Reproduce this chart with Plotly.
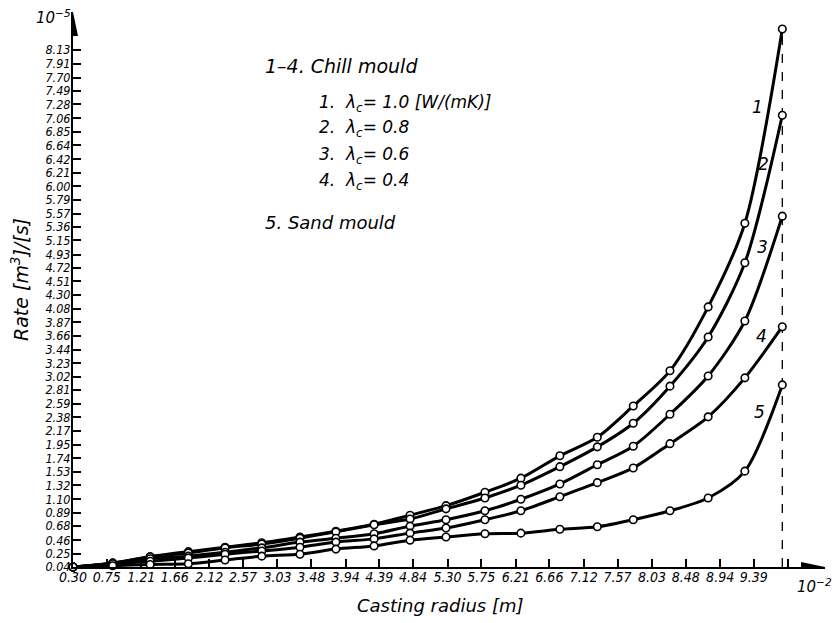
import plotly.graph_objects as go

# ---------------- data ----------------
radius = [0.30, 0.83, 1.33, 1.84, 2.33, 2.82, 3.33, 3.81, 4.32, 4.80,
          5.28, 5.80, 6.28, 6.80, 7.30, 7.78, 8.27, 8.78, 9.27, 9.77]

rate_1 = [0.04, 0.10, 0.20, 0.28, 0.35, 0.42, 0.51, 0.60, 0.71, 0.85,
          1.00, 1.21, 1.43, 1.78, 2.07, 2.56, 3.11, 4.11, 5.42, 8.46]
rate_2 = [0.04, 0.10, 0.20, 0.26, 0.34, 0.40, 0.49, 0.59, 0.70, 0.79,
          0.95, 1.12, 1.32, 1.61, 1.92, 2.29, 2.87, 3.64, 4.80, 7.11]
rate_3 = [0.04, 0.10, 0.17, 0.21, 0.27, 0.34, 0.43, 0.49, 0.56, 0.68,
          0.78, 0.92, 1.10, 1.34, 1.64, 1.93, 2.43, 3.03, 3.89, 5.53]
rate_4 = [0.04, 0.09, 0.13, 0.18, 0.24, 0.29, 0.35, 0.43, 0.48, 0.57,
          0.65, 0.78, 0.92, 1.14, 1.36, 1.59, 1.97, 2.39, 3.00, 3.80]
rate_5 = [0.04, 0.06, 0.08, 0.09, 0.15, 0.21, 0.24, 0.32, 0.37, 0.46,
          0.51, 0.56, 0.57, 0.63, 0.67, 0.78, 0.92, 1.12, 1.54, 2.89]

curve_names = ["1", "2", "3", "4", "5"]

x_tick_vals = [0.30, 0.75, 1.21, 1.66, 2.12, 2.57, 3.03, 3.48, 3.94, 4.39, 4.84,
               5.30, 5.75, 6.21, 6.66, 7.12, 7.57, 8.03, 8.48, 8.94, 9.39, 9.85]
x_tick_text = ["0.30", "0.75", "1.21", "1.66", "2.12", "2.57", "3.03", "3.48", "3.94",
               "4.39", "4.84", "5.30", "5.75", "6.21", "6.66", "7.12", "7.57", "8.03",
               "8.48", "8.94", "9.39", ""]

y_tick_text = ["0.04", "0.25", "0.46", "0.68", "0.89", "1.10", "1.32", "1.53", "1.74",
               "1.95", "2.17", "2.38", "2.59", "2.81", "3.02", "3.23", "3.44", "3.66",
               "3.87", "4.08", "4.30", "4.51", "4.72", "4.93", "5.15", "5.36", "5.57",
               "5.79", "6.00", "6.21", "6.42", "6.64", "6.85", "7.06", "7.28", "7.49",
               "7.70", "7.91", "8.13"]
y_tick_vals = [float(t) for t in y_tick_text]

legend_lines = ["1–4. Chill mould",
                "1.  λ<sub>c</sub>= 1.0 [W/(mK)]",
                "2.  λ<sub>c</sub>= 0.8",
                "3.  λ<sub>c</sub>= 0.6",
                "4.  λ<sub>c</sub>= 0.4",
                "5. Sand mould"]

# ---------------- figure ----------------
COND = "DejaVu Sans Condensed, Liberation Sans Narrow, DejaVu Sans, sans-serif"
REG = "DejaVu Sans, Liberation Sans, sans-serif"
X_MIN, X_MAX = 0.30, 10.34
Y_MIN, Y_MAX = 0.04, 8.725

fig = go.Figure()
for series in [rate_1, rate_2, rate_3, rate_4, rate_5]:
    fig.add_trace(go.Scatter(
        x=radius, y=series, mode="lines+markers",
        line=dict(color="black", width=3, shape="spline", smoothing=0.8),
        marker=dict(symbol="circle", size=7.5, color="white",
                    line=dict(color="black", width=1.6)),
        cliponaxis=False, showlegend=False, hoverinfo="x+y"))

axis_common = dict(showgrid=False, zeroline=False, showline=True, linecolor="black",
                   linewidth=2, ticks="inside", ticklen=8, tickwidth=1.5,
                   tickcolor="black", tickmode="array")

fig.update_layout(
    width=839, height=623,
    margin=dict(l=73, r=14, t=12, b=56),
    paper_bgcolor="white", plot_bgcolor="white",
    font=dict(family=REG, color="black", style="italic"),
    xaxis=dict(range=[X_MIN, X_MAX], tickvals=x_tick_vals, ticktext=x_tick_text,
               tickfont=dict(size=14, family=COND, style="italic"),
               ticklabelstandoff=-4, **axis_common),
    yaxis=dict(range=[Y_MIN, Y_MAX], tickvals=y_tick_vals, ticktext=y_tick_text,
               tickfont=dict(size=12.5, family=COND, style="italic"),
               ticklabelstandoff=-2, **axis_common),
)

# arrow heads on the axes
fig.add_shape(type="path", xref="x", yref="y", xsizemode="pixel", ysizemode="pixel",
              xanchor=X_MIN, yanchor=Y_MAX, path="M 0 0 L -5 -24 L 5 -24 Z",
              fillcolor="black", line=dict(width=0))
fig.add_shape(type="path", xref="x", yref="y", xsizemode="pixel", ysizemode="pixel",
              xanchor=X_MAX, yanchor=Y_MIN, path="M 0 0 L -24 5 L -24 -5 Z",
              fillcolor="black", line=dict(width=0))

# dashed vertical line at the last radius
fig.add_shape(type="line", xref="x", yref="y", x0=radius[-1], x1=radius[-1],
              y0=Y_MIN, y1=rate_1[-1], line=dict(color="black", width=1.3, dash="dash"),
              layer="below")


def px(xp):
    return (xp - 73) / 752.0


def py(yp):
    return (567 - yp) / 555.0


def note(text, xp, yp, size, xanchor="center", angle=0, family=REG):
    return dict(text=text, x=px(xp), y=py(yp), xref="paper", yref="paper",
                xanchor=xanchor, yanchor="middle", textangle=angle, showarrow=False,
                font=dict(size=size, family=family, style="italic"))


ann = []
# axis titles
ann.append(note("Casting radius [m]", 440, 605, 18))
ann.append(note("Rate [m<sup>3</sup>]/[s]", 20, 280, 19, angle=-90))
# scale factors
ann.append(note("10<sup>−5</sup>", 53, 17, 15))
ann.append(note("10<sup>−2</sup>", 814, 586, 15))
# legend block
leg_pos = [(263, 66, 19), (317, 104, 17), (317, 129, 17), (317, 155, 17), (317, 181, 17),
           (263, 222, 18)]
for txt, (lx, ly, fs) in zip(legend_lines, leg_pos):
    ann.append(note(txt, lx, ly, fs, xanchor="left"))
# curve labels
lab_pos = [(757, 107), (763, 164), (762, 247), (761, 336), (759, 412)]
for name, (lx, ly) in zip(curve_names, lab_pos):
    ann.append(note(name, lx, ly, 17))

fig.update_layout(annotations=ann)
fig.write_html("out.html")
